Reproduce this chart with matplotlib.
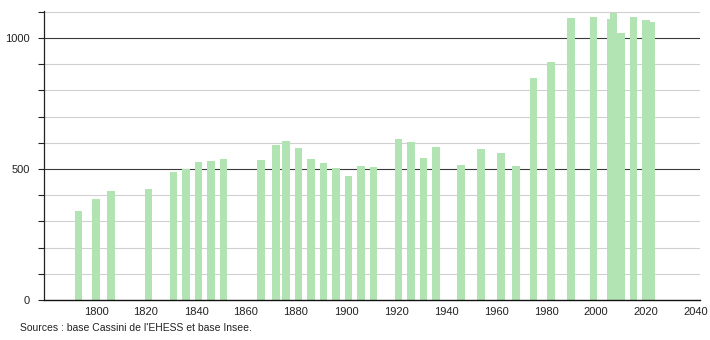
import matplotlib
matplotlib.use("Agg")
import matplotlib.pyplot as plt
from matplotlib.ticker import MultipleLocator

years = [1793, 1800, 1806, 1821, 1831, 1836, 1841, 1846, 1851,
         1866, 1872, 1876, 1881, 1886, 1891, 1896, 1901, 1906, 1911,
         1921, 1926, 1931, 1936, 1946, 1954, 1962, 1968, 1975, 1982,
         1990, 1999, 2006, 2007, 2010, 2015, 2020, 2022]
population = [340, 384, 415, 422, 488, 499, 527, 529, 537,
              534, 592, 606, 579, 537, 522, 503, 473, 510, 506,
              613, 602, 542, 583, 515, 576, 561, 510, 846, 907,
              1075, 1080, 1073, 1094, 1019, 1080, 1069, 1061]
x_ticks = [1800, 1820, 1840, 1860, 1880, 1900, 1920, 1940, 1960, 1980, 2000, 2020, 2040]
y_major = [0, 500, 1000]
source_text = "Sources : base Cassini de l'EHESS et base Insee."

plt.rcParams['font.family'] = ['Liberation Sans', 'DejaVu Sans']

fig = plt.figure(figsize=(7.1, 3.4), dpi=100)
ax = fig.add_axes([44/710, 1 - 300/340, 656/710, 289.5/340])

ax.set_xlim(1779.2, 2041.6)
ax.set_ylim(0, 1105)

# grid lines
for v in range(100, 1101, 100):
    if v % 500 == 0:
        ax.axhline(v, color='#3a3a3a', lw=0.8, zorder=1)
    else:
        ax.axhline(v, color='#d0d0d0', lw=0.8, zorder=1)

ax.bar(years, population, width=3.1, color='#b2e3b2', zorder=2, linewidth=0)

ax.set_xticks(x_ticks)
ax.set_xticklabels([str(t) for t in x_ticks])
ax.set_yticks(y_major)
ax.set_yticklabels([str(t) for t in y_major])
ax.yaxis.set_minor_locator(MultipleLocator(100))
ax.tick_params(axis='x', length=0, pad=5, labelsize=8, colors='#222222')
ax.tick_params(axis='y', which='major', length=4, width=0.8, pad=6, labelsize=8, colors='#222222')
ax.tick_params(axis='y', which='minor', length=4, width=0.8)
ax.tick_params(axis='y', which='both', color='#222222')

for s in ['top', 'right']:
    ax.spines[s].set_visible(False)
ax.spines['left'].set_color('#222222')
ax.spines['bottom'].set_color('#111111')
ax.spines['left'].set_linewidth(0.9)
ax.spines['bottom'].set_linewidth(1.0)

fig.text(20/710, 1 - 328/340, source_text, fontsize=7.5, color='#222222', va='center', ha='left')

fig.savefig('out.png', dpi=100)
